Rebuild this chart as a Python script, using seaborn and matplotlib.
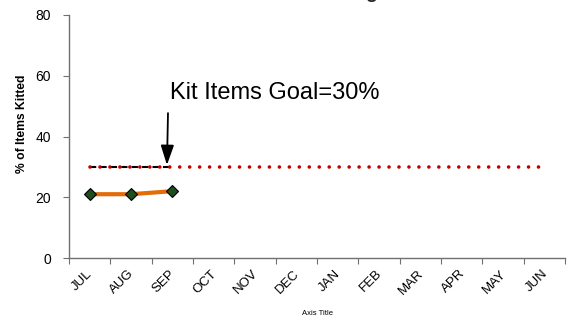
import matplotlib
matplotlib.use("Agg")
import matplotlib.pyplot as plt
import seaborn as sns
import numpy as np
import pandas as pd

months = ["JUL", "AUG", "SEP", "OCT", "NOV", "DEC", "JAN", "FEB", "MAR", "APR", "MAY", "JUN"]
kitted_pct = [21, 21, 22]
goal_pct = [30] * 12
goal_label = "Kit Items Goal=30%"

sns.set_theme(style="white")
plt.rcParams["font.family"] = ["Liberation Sans", "DejaVu Sans"]

fig = plt.figure(figsize=(5.7, 3.22), dpi=100)
ax = fig.add_axes([69 / 570, 1 - 258 / 322, (565 - 69) / 570, (258 - 15) / 322])

pos = np.arange(len(months))
df_goal = pd.DataFrame({"x": pos, "y": goal_pct})
df_kit = pd.DataFrame({"x": pos[: len(kitted_pct)], "y": kitted_pct})

# goal reference: black dashes under the months reported so far, red dots across the year
sns.lineplot(data=df_goal.iloc[: len(kitted_pct)], x="x", y="y", ax=ax, color="black",
             linestyle=(0, (3, 2)), linewidth=1.5, zorder=2)
sns.lineplot(data=df_goal, x="x", y="y", ax=ax, color="#C00000",
             linestyle=(0, (0.01, 2.75)), dash_capstyle="round", linewidth=2.6, zorder=3)

sns.lineplot(data=df_kit, x="x", y="y", ax=ax, color="#E36C0A", linewidth=3, zorder=4,
             marker="D", markersize=6, markerfacecolor="#1E4D1E", markeredgecolor="black",
             markeredgewidth=0.8)

ax.set_xlim(-0.5, len(months) - 0.5)
ax.set_ylim(0, 80)
ax.set_yticks([0, 20, 40, 60, 80])
# month labels sit slightly right of each category centre, rotated 45 degrees
ax.set_xticks(pos + 0.13)
ax.set_xticklabels(months, rotation=45, fontsize=9.5, ha="right", va="top",
                   rotation_mode="default", color="black")
ax.set_xticks(np.arange(-0.5, len(months)), minor=True)
ax.tick_params(axis="x", which="major", length=0, pad=7)
ax.tick_params(axis="x", which="minor", length=4, width=0.8, color="#707070", direction="out",
               bottom=True)
ax.tick_params(axis="y", length=4, width=0.8, color="#707070", direction="out",
               labelsize=10, labelcolor="black", pad=9, left=True)

for s in ["top", "right"]:
    ax.spines[s].set_visible(False)
for s in ["left", "bottom"]:
    ax.spines[s].set_color("#707070")
    ax.spines[s].set_linewidth(1)

ax.set_ylabel("% of Items Kitted", fontsize=8.7, fontweight="bold", color="black")
ax.yaxis.set_label_coords(-0.083, 0.551)
ax.set_xlabel("Axis Title", fontsize=5.5, color="black")
ax.xaxis.set_label_coords(0.5, -0.215)

ax.text(1.94, 52.3, goal_label, fontsize=17, ha="left", va="baseline", color="black")
ax.annotate("", xy=(1.87, 30.6), xytext=(1.895, 47.7),
            arrowprops=dict(arrowstyle="-|>,head_length=0.6,head_width=0.2", color="black",
                            lw=1.3, mutation_scale=20, shrinkA=0, shrinkB=0))

fig.text(378 / 570, 1.0 + 1.8 / 322, "Items Kitting", ha="right", va="baseline",
         fontsize=14, fontweight="bold")

fig.savefig("out.png", dpi=100)
